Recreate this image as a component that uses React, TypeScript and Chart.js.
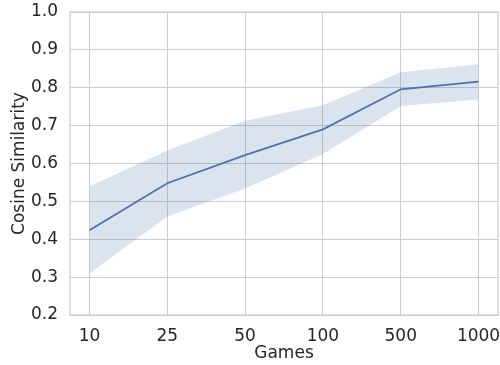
import React, { useEffect, useRef } from "react";
import { Chart, registerables } from "chart.js";

Chart.register(...registerables);

const categories = ["10", "25", "50", "100", "500", "1000"];
const meanValues = [0.424, 0.548, 0.622, 0.69, 0.796, 0.816];
const upperValues = [0.539, 0.634, 0.713, 0.754, 0.841, 0.862];
const lowerValues = [0.31, 0.46, 0.534, 0.625, 0.752, 0.769];
const yTicks = [0.2, 0.3, 0.4, 0.5, 0.6, 0.7, 0.8, 0.9, 1.0];

const LINE = "#4c72b0";
const BAND = "rgba(76,114,176,0.2)";
const GRID = "#cccccc";
const TEXT = "#262626";
const FONT = "'DejaVu Sans', sans-serif";

const frame = {
  id: "frame",
  afterDatasetsDraw(chart: any) {
    const { ctx, chartArea } = chart;
    ctx.save();
    ctx.strokeStyle = GRID;
    ctx.lineWidth = 1.25;
    ctx.strokeRect(chartArea.left, chartArea.top, chartArea.right - chartArea.left, chartArea.bottom - chartArea.top);
    ctx.restore();
  },
};

export default function App() {
  const ref = useRef<HTMLCanvasElement>(null);
  useEffect(() => {
    if (!ref.current) return;
    const pts = (arr: number[]) => arr.map((v, i) => ({ x: i, y: v }));
    const chart = new Chart(ref.current, {
      type: "line",
      data: {
        datasets: [
          { data: pts(upperValues), borderWidth: 0, pointRadius: 0, fill: "+1", backgroundColor: BAND, borderColor: "transparent" },
          { data: pts(lowerValues), borderWidth: 0, pointRadius: 0, fill: false, borderColor: "transparent" },
          { data: pts(meanValues), borderWidth: 1.8, pointRadius: 0, fill: false, borderColor: LINE },
        ],
      },
      options: {
        animation: false,
        responsive: false,
        maintainAspectRatio: false,
        layout: { padding: { top: 12, right: 2, left: 0, bottom: 0 } },
        plugins: { legend: { display: false }, tooltip: { enabled: false } },
        scales: {
          x: {
            type: "linear",
            min: -0.25,
            max: 5.25,
            afterBuildTicks: (scale: any) => {
              scale.ticks = categories.map((_, i) => ({ value: i }));
            },
            afterFit: (scale: any) => {
              scale.height = 50;
              scale.paddingLeft = 0;
              scale.paddingRight = 0;
            },
            ticks: {
              callback: (v: any) => categories[Math.round(Number(v))] ?? "",
              color: TEXT,
              font: { family: FONT, size: 17 },
              padding: 11,
              maxRotation: 0,
            },
            grid: { color: GRID, lineWidth: 1, drawTicks: false },
            border: { display: false },
            title: { display: true, text: "Games", color: TEXT, font: { family: FONT, size: 17 }, padding: { top: 0, bottom: 1 } },
          },
          y: {
            min: 0.2,
            max: 1.0,
            afterBuildTicks: (scale: any) => {
              scale.ticks = yTicks.map((v) => ({ value: v }));
            },
            afterFit: (scale: any) => {
              scale.width = 70;
              scale.paddingTop = 0;
              scale.paddingBottom = 0;
            },
            ticks: {
              callback: (v: any) => Number(v).toFixed(1),
              color: TEXT,
              font: { family: FONT, size: 17 },
              padding: 12,
            },
            grid: { color: GRID, lineWidth: 1, drawTicks: false },
            border: { display: false },
            title: { display: true, text: "Cosine Similarity", color: TEXT, font: { family: FONT, size: 17 }, padding: { top: 9, bottom: 0 } },
          },
        },
      },
      plugins: [frame],
    } as any);
    return () => chart.destroy();
  }, []);
  return (
    <div style={{ position: "fixed", left: 0, top: 0, width: 500, height: 365, background: "#fff" }}>
      <canvas ref={ref} width={500} height={365} style={{ width: 500, height: 365, display: "block" }} />
    </div>
  );
}
